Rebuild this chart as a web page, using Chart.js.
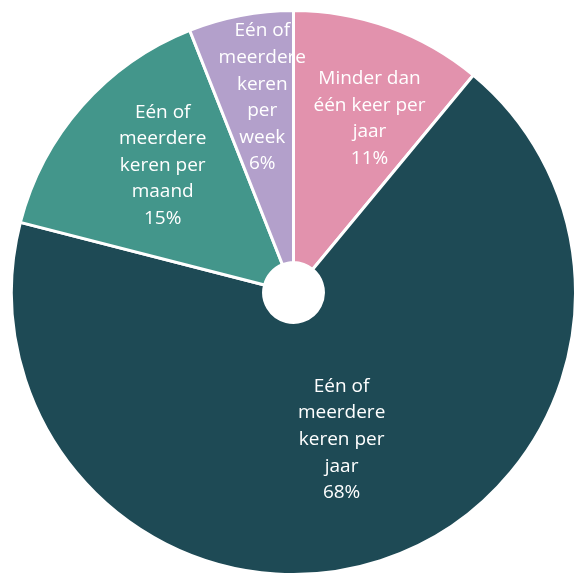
<!DOCTYPE html>
<html lang="nl">
  <head>
    <meta charset="UTF-8" />
    <title>Frequentie</title>
    <style>
      html,
      body {
        margin: 0;
        padding: 0;
        background: #fff;
        overflow: hidden;
      }
      .wrap {
        width: 577px;
        height: 577px;
      }
    </style>
  </head>
  <body>
    <div class="wrap"><canvas class="chart"></canvas></div>
    <script src="https://cdn.jsdelivr.net/npm/chart.js@4.4.1/dist/chart.umd.min.js"></script>
    <script>
      // Categories and shares (percent), clockwise from 12 o'clock.
      const categories = [
        "Minder dan één keer per jaar",
        "Eén of meerdere keren per jaar",
        "Eén of meerdere keren per maand",
        "Eén of meerdere keren per week",
      ];
      const shares = [11, 68, 15, 6];
      // Label lines as they are wrapped in the picture.
      const labelLines = [
        ["Minder dan", "één keer per", "jaar"],
        ["Eén of", "meerdere", "keren per", "jaar"],
        ["Eén of", "meerdere", "keren per", "maand"],
        ["Eén of", "meerdere", "keren", "per", "week"],
      ];
      const colors = ["#e292ad", "#1e4a55", "#43968b", "#b3a0cb"];

      // Where each label sits: fraction of outer radius, angle shift in degrees.
      const labelPlace = [
        { r: 0.673, shift: 3.8 },
        { r: 0.549, shift: -0.1 },
        { r: 0.647, shift: 2.8 },
        { r: 0.7, shift: 1.7 },
      ];

      const sliceLabels = {
        id: "sliceLabels",
        afterDatasetsDraw(chart) {
          const ctx = chart.ctx;
          const meta = chart.getDatasetMeta(0);
          ctx.save();
          ctx.fillStyle = "#fff";
          ctx.font = "19px 'Open Sans'";
          ctx.textAlign = "center";
          ctx.textBaseline = "middle";
          meta.data.forEach((arc, i) => {
            const p = arc.getProps(["x", "y", "startAngle", "endAngle", "outerRadius"], true);
            const mid = (p.startAngle + p.endAngle) / 2 + (labelPlace[i].shift * Math.PI) / 180;
            const rad = p.outerRadius * labelPlace[i].r;
            const cx = p.x + Math.cos(mid) * rad;
            const cy = p.y + Math.sin(mid) * rad;
            const lines = [...labelLines[i], shares[i] + "%"];
            const lh = 26.6;
            const top = cy - ((lines.length - 1) * lh) / 2;
            lines.forEach((t, k) => ctx.fillText(t, cx, top + k * lh));
          });
          ctx.restore();
        },
      };

      new Chart(document.querySelector(".chart"), {
        type: "doughnut",
        data: {
          labels: categories,
          datasets: [
            {
              data: shares,
              backgroundColor: colors,
              borderColor: "#fff",
              borderWidth: 3,
            },
          ],
        },
        options: {
          responsive: true,
          maintainAspectRatio: false,
          animation: false,
          cutout: "10.6%",
          layout: { padding: { left: 10, top: 8, right: -4, bottom: -1 } },
          plugins: {
            legend: { display: false },
            tooltip: { enabled: false },
          },
        },
        plugins: [sliceLabels],
      });
    </script>
  </body>
</html>
